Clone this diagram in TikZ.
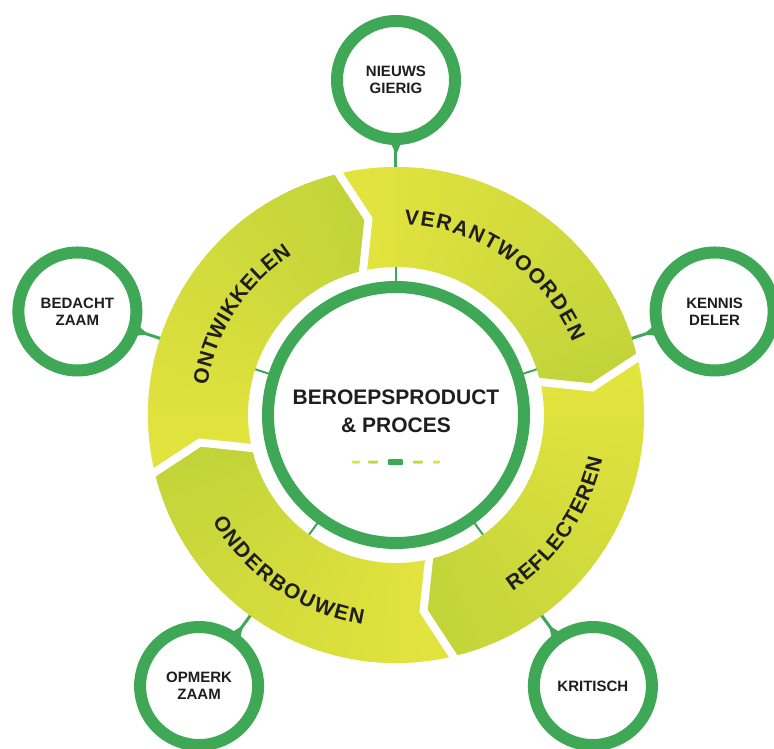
\documentclass[tikz,border=0pt]{standalone}
\usepackage{fontspec}
\setmainfont{Liberation Sans}
\usetikzlibrary{decorations.text,calc}
\definecolor{ringgreen}{RGB}{62,168,86}
\definecolor{segY}{RGB}{229,228,62}
\definecolor{segG}{RGB}{192,211,58}
\definecolor{txt}{RGB}{30,30,30}
\definecolor{dashY}{RGB}{222,226,80}
\definecolor{dashYG}{RGB}{200,216,72}
\newcommand\segfont{\bfseries\fontsize{21}{21}\selectfont}
\tikzset{
  bubble/.style={circle, draw=ringgreen, line width=12pt, fill=white, minimum size=118pt,
    inner sep=0pt, align=center, text=txt, font=\bfseries\fontsize{15}{17}\selectfont},
  conn/.style={ringgreen, line width=3pt},
  innertick/.style={ringgreen, line width=2pt},
  divider/.style={white, line width=8pt, line join=miter},
  segtext/.style={decorate, decoration={text along path, text color=txt, text align={fit to path}}},
}
\begin{document}
\begin{tikzpicture}
\useasboundingbox (-396pt,-333pt) rectangle (378pt,415pt);
% inner ticks
\foreach \a in {90,162,18,234,306}{
  \draw[innertick] (\a:130pt) -- (\a:152pt);
}
% segments with gradient
\foreach \S in {104,14,-76,194}{
  \pgfmathsetmacro\E{\S-90}
  \pgfmathsetmacro\Sk{\S-6}
  \pgfmathsetmacro\Ek{\E-6}
  \begin{scope}
    \clip (\S:248pt) arc[start angle=\S, end angle=\E, radius=248pt] -- (\Ek:198pt) -- (\E:148pt)
      arc[start angle=\E, end angle=\S, radius=148pt] -- (\Sk:198pt) -- cycle;
    \foreach \i in {0,...,50}{
      \pgfmathsetmacro\aa{\S+2-2*\i}
      \pgfmathsetmacro\bb{\aa-2.5}
      \pgfmathtruncatemacro\t{min(100,\i*2)}
      \fill[segG!\t!segY] (0,0) -- (\aa:262pt) -- (\bb:262pt) -- cycle;
    }
  \end{scope}
}
% white dividers
\foreach \S in {104,14,-76,194}{
  \pgfmathsetmacro\Sk{\S-6}
  \draw[divider] (\S:256pt) -- (\Sk:198pt) -- (\S:140pt);
}
% central circle
\node[circle, draw=ringgreen, line width=12pt, minimum size=256pt, inner sep=0pt] (core) at (0,0) {};
\node[align=center, text=txt, font=\bfseries\fontsize{21}{28}\selectfont] (title) at (0,4pt) {BEROEPSPRODUCT\\\& PROCES};
% dashes
\fill[dashY, rounded corners=0.8pt] (-44pt,-48.5pt) rectangle (-36pt,-45.5pt);
\fill[dashYG, rounded corners=0.8pt] (-28pt,-48.5pt) rectangle (-18pt,-45.5pt);
\fill[ringgreen, rounded corners=1pt] (-8pt,-50pt) rectangle (7pt,-44pt);
\fill[dashYG, rounded corners=0.8pt] (17pt,-48.5pt) rectangle (27pt,-45.5pt);
\fill[dashY, rounded corners=0.8pt] (37pt,-48.5pt) rectangle (44pt,-45.5pt);
% segment texts
\path[segtext, decoration={text={|\segfont|VERANTWOORDEN}}] (87.5:191pt) arc[start angle=87.5, end angle=22.5, radius=191pt];
\path[segtext, decoration={text={|\segfont|ONTWIKKELEN}}] (171:191pt) arc[start angle=171, end angle=123, radius=191pt];
\path[segtext, decoration={text={|\segfont|REFLECTEREN}}] (-56.5:211pt) arc[start angle=-56.5, end angle=-12, radius=211pt];
\path[segtext, decoration={text={|\segfont|ONDERBOUWEN}}] (210:212pt) arc[start angle=210, end angle=261, radius=212pt];
% bubbles and connectors
\foreach \n/\a/\lab in {nieuws/90/{NIEUWS\\GIERIG}, bedacht/162/{BEDACHT\\ZAAM}, kennis/18/{KENNIS\\DELER},
    opmerk/234/{OPMERK\\ZAAM}, kritisch/306/{KRITISCH}}{
  \coordinate (r-\n) at (\a:248pt);
  \node[bubble] (\n) at (\a:335pt) {\lab};
  \coordinate (f-\n) at ($(\n.center)!63pt!(r-\n)$);
  \fill[ringgreen] ($(f-\n)!5pt!90:(r-\n)$) -- ($(f-\n)!5pt!-90:(r-\n)$) -- ($(\n.center)!75pt!(r-\n)$) -- cycle;
  \draw[conn] (\n) -- (r-\n);
}
\end{tikzpicture}
\end{document}
